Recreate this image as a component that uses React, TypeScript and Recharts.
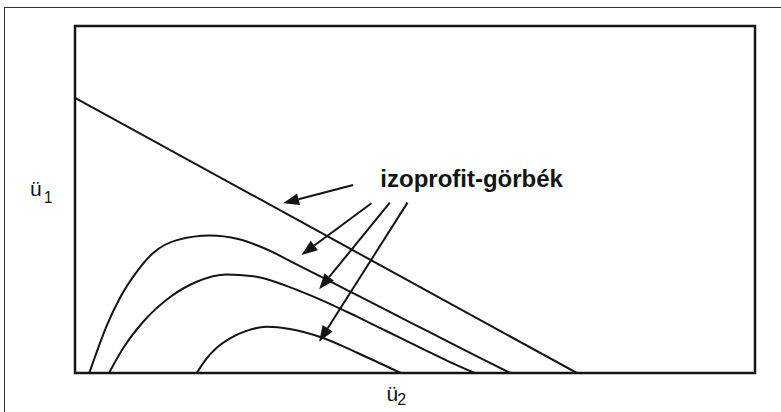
import { LineChart, Line, XAxis, YAxis, ReferenceArea, ReferenceLine, ReferenceDot } from 'recharts';

// budget line (straight)
const budgetU2 = [0, 73.8];
const budgetU1 = [79.3, 0];

// isoprofit curves, outermost first
const curve1U2 = [2.1, 3.2, 4.7, 6.6, 9.1, 11.5, 15.0, 19.9, 24.0, 28.0, 32.0, 36.0, 40.0, 44.0, 48.0, 52.0, 56.0, 60.0, 64.0];
const curve1U1 = [0, 6.1, 13.8, 21.6, 29.2, 34.6, 38.3, 39.6, 38.6, 35.8, 31.9, 27.9, 23.9, 19.9, 15.9, 11.9, 7.9, 3.9, 0];

const curve2U2 = [5.0, 7.1, 10.0, 14.0, 17.9, 22.3, 26.2, 29.4, 32.8, 36.5, 41.4, 46.3, 51.2, 55.0, 58.8];
const curve2U1 = [0, 7.2, 14.7, 21.9, 26.3, 28.4, 27.9, 26.3, 23.8, 20.8, 16.3, 11.6, 6.9, 3.3, 0];

const curve3U2 = [17.9, 19.2, 20.8, 22.8, 25.0, 28.2, 31.6, 36.5, 41.4, 47.9];
const curve3U1 = [0, 3.8, 7.2, 10.0, 12.0, 13.3, 12.7, 10.1, 5.9, 0];

// annotation arrows: start -> tip
const arrowFromU2 = [40.9, 43.6, 46.3, 48.9];
const arrowFromU1 = [54.2, 48.9, 49.1, 49.1];
const arrowToU2 = [30.6, 33.3, 35.9, 35.9];
const arrowToU1 = [48.9, 34.0, 24.1, 9.0];

const labelText = 'izoprofit-görbék';
const labelU2 = 44.9;
const labelU1 = 53.6;

// axis names (placed outside the plot frame)
const axisNameU1 = { x: -6.6, y: 51.0, sub: '1', dx: 2, dy: 7 };
const axisNameU2 = { x: 45.8, y: -8.1, sub: '2', dx: -1, dy: 4 };

const ink = '#141414';
const font = '"Liberation Sans", Arial, sans-serif';

const toPoints = (xs: number[], ys: number[]) => xs.map((x, i) => ({ x, y: ys[i] }));

const ArrowShape = (props: any) => {
  const { x1, y1, x2, y2 } = props;
  const dx = x2 - x1;
  const dy = y2 - y1;
  const len = Math.sqrt(dx * dx + dy * dy) || 1;
  const ux = dx / len;
  const uy = dy / len;
  const head = 16;
  const half = 6;
  const bx = x2 - ux * head;
  const by = y2 - uy * head;
  return (
    <g>
      <line x1={x1} y1={y1} x2={bx} y2={by} stroke={ink} strokeWidth={2} />
      <polygon
        points={`${x2},${y2} ${bx - uy * half},${by + ux * half} ${bx + uy * half},${by - ux * half}`}
        fill={ink}
      />
    </g>
  );
};

const axisName = (n: { sub: string; dx: number; dy: number }) => (p: any) => (
  <text x={p.cx} y={p.cy} fill={ink} fontSize={21} fontFamily={font}>
    ü
    <tspan dx={n.dx} dy={n.dy} fontSize={16}>
      {n.sub}
    </tspan>
  </text>
);

export default function App() {
  return (
    <div
      style={{
        position: 'absolute',
        left: 0,
        top: 0,
        width: 781,
        height: 412,
        overflow: 'hidden',
        background: '#fff',
        fontFamily: font,
      }}
    >
      <div
        style={{
          position: 'absolute',
          left: 4,
          top: 7,
          width: 800,
          height: 500,
          borderLeft: '1px solid #333',
          borderTop: '1px solid #333',
        }}
      />
      <div style={{ position: 'absolute', left: 0, top: 0 }}>
        <LineChart width={781} height={412} margin={{ top: 26, right: 26, bottom: 0, left: 0 }}>
          <XAxis type="number" dataKey="x" domain={[0, 100]} allowDataOverflow height={39} axisLine={false} tickLine={false} tick={false} />
          <YAxis type="number" domain={[0, 100]} allowDataOverflow width={75} axisLine={false} tickLine={false} tick={false} />
          <ReferenceArea x1={0} x2={100} y1={0} y2={100} fill="none" fillOpacity={0} stroke={ink} strokeWidth={2.5} />
          <Line data={toPoints(budgetU2, budgetU1)} dataKey="y" type="linear" stroke={ink} strokeWidth={2} dot={false} isAnimationActive={false} />
          <Line data={toPoints(curve1U2, curve1U1)} dataKey="y" type="monotone" stroke={ink} strokeWidth={2} dot={false} isAnimationActive={false} />
          <Line data={toPoints(curve2U2, curve2U1)} dataKey="y" type="monotone" stroke={ink} strokeWidth={2} dot={false} isAnimationActive={false} />
          <Line data={toPoints(curve3U2, curve3U1)} dataKey="y" type="monotone" stroke={ink} strokeWidth={2} dot={false} isAnimationActive={false} />
          {arrowFromU2.map((fx, i) => (
            <ReferenceLine
              key={i}
              segment={[
                { x: fx, y: arrowFromU1[i] },
                { x: arrowToU2[i], y: arrowToU1[i] },
              ]}
              shape={ArrowShape}
            />
          ))}
          <ReferenceDot
            x={labelU2}
            y={labelU1}
            r={0}
            shape={(p: any) => (
              <text x={p.cx} y={p.cy} fill={ink} fontSize={24} fontWeight="bold" fontFamily={font}>
                {labelText}
              </text>
            )}
          />
          <ReferenceDot x={axisNameU1.x} y={axisNameU1.y} r={0} ifOverflow="visible" shape={axisName(axisNameU1)} />
          <ReferenceDot x={axisNameU2.x} y={axisNameU2.y} r={0} ifOverflow="visible" shape={axisName(axisNameU2)} />
        </LineChart>
      </div>
    </div>
  );
}
